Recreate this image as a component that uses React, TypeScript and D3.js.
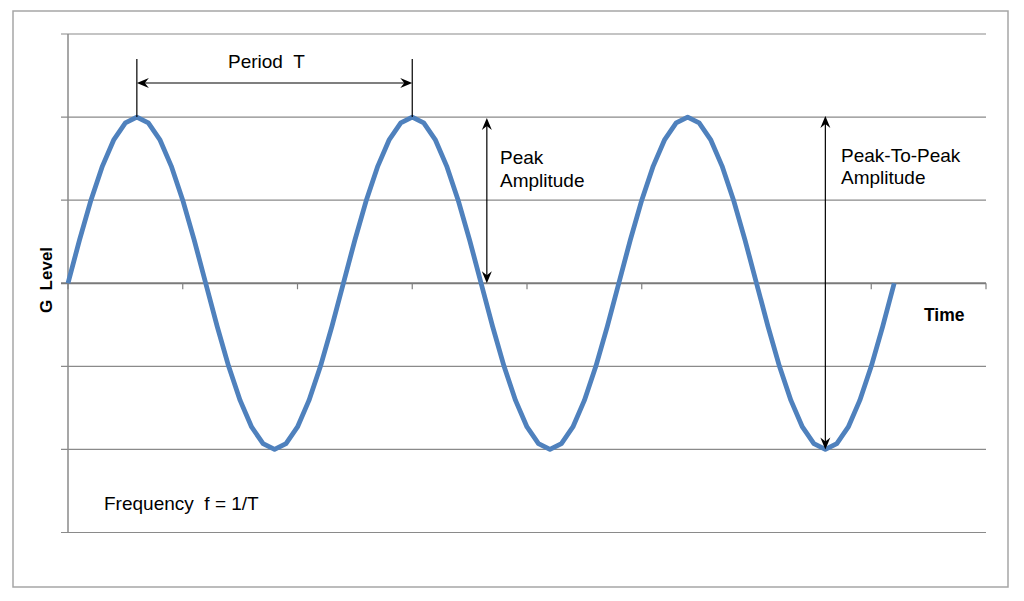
import * as d3 from 'd3';

// category axis: 81 slots, a tick every 10
const categoryCount = 80;
const xTickValues = [0, 10, 20, 30, 40, 50, 60, 70, 80];
const yTickValues = [-3, -2, -1, 0, 1, 2, 3];

// G level sampled every 15 degrees, three full periods
const gLevel = [
  0, 0.52, 1, 1.41, 1.73, 1.93, 2, 1.93, 1.73, 1.41, 1, 0.52,
  0, -0.52, -1, -1.41, -1.73, -1.93, -2, -1.93, -1.73, -1.41, -1, -0.52,
  0, 0.52, 1, 1.41, 1.73, 1.93, 2, 1.93, 1.73, 1.41, 1, 0.52,
  0, -0.52, -1, -1.41, -1.73, -1.93, -2, -1.93, -1.73, -1.41, -1, -0.52,
  0, 0.52, 1, 1.41, 1.73, 1.93, 2, 1.93, 1.73, 1.41, 1, 0.52,
  0, -0.52, -1, -1.41, -1.73, -1.93, -2, -1.93, -1.73, -1.41, -1, -0.52,
  0,
];

const FONT = "Arial, 'Liberation Sans', sans-serif";
const W = 1024;
const H = 601;
const margin = { left: 68, right: 38, top: 34, bottom: 68.5 };

function Head({ x, y, angle }: { x: number; y: number; angle: number }) {
  // stealth style arrowhead, tip at (x,y), pointing along angle (deg)
  return (
    <path
      d="M0,0 L-12,-5 L-8,0 L-12,5 Z"
      transform={`translate(${x},${y}) rotate(${angle})`}
      fill="#000"
    />
  );
}

export default function App() {
  const x = d3.scaleLinear().domain([0, categoryCount]).range([margin.left, W - margin.right]);
  const y = d3.scaleLinear().domain([-3, 3]).range([H - margin.bottom, margin.top]);

  const line = d3.line<number>()
    .x((_, i) => x(i))
    .y((d) => y(d));

  const gridColor = '#8a8a8a';
  const peakA = 6;
  const peakB = 30;
  const ampX = 36.5;
  const p2pX = 66;
  const periodY = y(2.41);

  return (
    <svg width={W} height={H} style={{ position: 'absolute', left: 0, top: 0, background: '#fff' }}>
      <rect x={13} y={11} width={995} height={576} fill="#fff" stroke="#a6a6a6" strokeWidth={1.5} />

      {/* horizontal gridlines, with small ticks left of the axis */}
      {yTickValues.filter((v) => v !== 0).map((v) => (
        <line key={v} x1={x(0) - 7} x2={x(categoryCount)} y1={y(v)} y2={y(v)} stroke={gridColor} strokeWidth={1.2} />
      ))}

      {/* y axis */}
      <line x1={x(0)} x2={x(0)} y1={y(-3)} y2={y(3)} stroke={gridColor} strokeWidth={1.5} />

      {/* zero line with ticks */}
      <line x1={x(0) - 7} x2={x(categoryCount)} y1={y(0)} y2={y(0)} stroke="#7a7a7a" strokeWidth={2.2} />
      {xTickValues.map((t) => (
        <line key={t} x1={x(t)} x2={x(t)} y1={y(0)} y2={y(0) + 6} stroke="#808080" strokeWidth={1.2} />
      ))}

      <path d={line(gLevel) ?? ''} fill="none" stroke="#4f81bd" strokeWidth={4.8} strokeLinejoin="round" />

      {/* period annotation */}
      <line x1={x(peakA)} x2={x(peakA)} y1={y(2.7)} y2={y(2)} stroke="#000" strokeWidth={1.2} />
      <line x1={x(peakB)} x2={x(peakB)} y1={y(2.7)} y2={y(2)} stroke="#000" strokeWidth={1.2} />
      <line x1={x(peakA) + 4} x2={x(peakB) - 4} y1={periodY} y2={periodY} stroke="#000" strokeWidth={1.2} />
      <Head x={x(peakA)} y={periodY} angle={180} />
      <Head x={x(peakB)} y={periodY} angle={0} />
      <text x={228} y={68} fontFamily={FONT} fontSize={19} fill="#000" style={{ whiteSpace: 'pre' }}>
        {'Period  T'}
      </text>

      {/* peak amplitude */}
      <line x1={x(ampX)} x2={x(ampX)} y1={y(2) + 4} y2={y(0) - 4} stroke="#000" strokeWidth={1.2} />
      <Head x={x(ampX)} y={y(2) + 1} angle={-90} />
      <Head x={x(ampX)} y={y(0)} angle={90} />
      <text x={500} y={164} fontFamily={FONT} fontSize={19} fill="#000">Peak</text>
      <text x={500} y={187} fontFamily={FONT} fontSize={19} fill="#000">Amplitude</text>

      {/* peak to peak amplitude */}
      <line x1={x(p2pX)} x2={x(p2pX)} y1={y(2) + 4} y2={y(-2) - 4} stroke="#000" strokeWidth={1.2} />
      <Head x={x(p2pX)} y={y(2) - 1} angle={-90} />
      <Head x={x(p2pX)} y={y(-2)} angle={90} />
      <text x={841} y={162} fontFamily={FONT} fontSize={19} fill="#000">Peak-To-Peak</text>
      <text x={841} y={184} fontFamily={FONT} fontSize={19} fill="#000">Amplitude</text>

      {/* axis titles */}
      <text x={924} y={321} fontFamily={FONT} fontSize={17.5} fontWeight="bold" fill="#000">Time</text>
      <text
        transform="translate(52,280) rotate(-90)"
        textAnchor="middle"
        fontFamily={FONT}
        fontSize={17}
        fontWeight="bold"
        fill="#000"
        style={{ whiteSpace: 'pre' }}
      >
        {'G  Level'}
      </text>

      <text x={104} y={510} fontFamily={FONT} fontSize={19} fill="#000" style={{ whiteSpace: 'pre' }}>
        {'Frequency  f = 1/T'}
      </text>
    </svg>
  );
}
